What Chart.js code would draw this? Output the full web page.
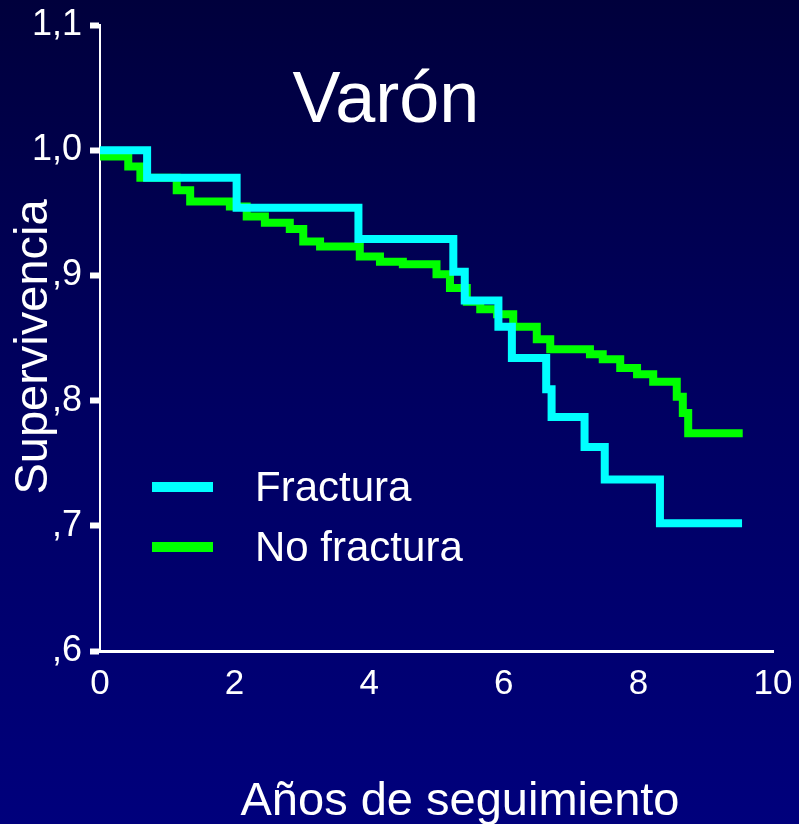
<!DOCTYPE html>
<html>
<head>
<meta charset="utf-8">
<script src="https://cdn.jsdelivr.net/npm/chart.js@4"></script>
<style>
  html, body { margin: 0; padding: 0; }
  body { width: 799px; height: 824px; background: linear-gradient(to bottom, #00003c 0%, #000062 50%, #00007c 100%); }
  #wrap { position: relative; width: 799px; height: 824px; }
</style>
</head>
<body>
<div id="wrap"><canvas id="kmChart"></canvas></div>
<script>
// Kaplan-Meier, varones: tiempo (años) y supervivencia tras cada escalón
const fracturaT = [0, 0.70, 2.03, 3.84, 5.25, 5.42, 5.92, 6.12, 6.63, 6.71, 7.20, 7.50, 8.32, 9.54];
const fracturaS = [1.000, 0.978, 0.954, 0.929, 0.903, 0.880, 0.859, 0.834, 0.809, 0.787, 0.763, 0.737, 0.702, 0.702];

const noFracturaT = [0, 0.42, 0.60, 1.14, 1.34, 1.93, 2.18, 2.45, 2.82, 3.02, 3.27, 3.86, 4.16, 4.50, 5.00, 5.20, 5.45, 5.65, 5.90, 6.14, 6.49, 6.69, 7.28, 7.47, 7.73, 7.98, 8.22, 8.57, 8.66, 8.74, 9.55];
const noFracturaS = [0.995, 0.987, 0.978, 0.968, 0.959, 0.955, 0.947, 0.942, 0.937, 0.927, 0.923, 0.915, 0.911, 0.909, 0.901, 0.890, 0.879, 0.873, 0.869, 0.859, 0.849, 0.841, 0.837, 0.833, 0.826, 0.821, 0.815, 0.803, 0.790, 0.774, 0.774];

const xTickValues = [0, 2, 4, 6, 8, 10];
const yTickValues = [0.6, 0.7, 0.8, 0.9, 1.0, 1.1];
const yTickLabels = [',6', ',7', ',8', ',9', '1,0', '1,1'];

const FONT = '"Liberation Sans", Arial, Helvetica, sans-serif';

function toPoints(ts, ss) {
    return ts.map((t, i) => ({ x: t, y: ss[i] }));
}

// Textos de la diapositiva: título, leyenda y rótulos de ejes
const slideText = {
    id: 'slideText',
    afterDraw(chart) {
        const ctx = chart.ctx;
        ctx.save();
        ctx.fillStyle = '#ffffff';
        ctx.textBaseline = 'alphabetic';

        ctx.font = '72px ' + FONT;
        ctx.textAlign = 'center';
        ctx.fillText('Varón', 386, 122);

        // leyenda
        const rows = [487, 547];
        chart.data.datasets.forEach((ds, i) => {
            ctx.strokeStyle = ds.borderColor;
            ctx.lineWidth = 10;
            ctx.beginPath();
            ctx.moveTo(152, rows[i]);
            ctx.lineTo(213, rows[i]);
            ctx.stroke();
            ctx.font = '42px ' + FONT;
            ctx.textAlign = 'left';
            ctx.fillText(ds.label, 255, rows[i] + 14);
        });

        ctx.font = '47px ' + FONT;
        ctx.textAlign = 'center';
        ctx.fillText('Años de seguimiento', 460, 815);

        ctx.translate(47, 347);
        ctx.rotate(-Math.PI / 2);
        ctx.fillText('Supervivencia', 0, 0);
        ctx.restore();
    }
};

function createKmChart(ctx) {
    if (!ctx) return;
    new Chart(ctx, {
        type: 'line',
        data: {
            datasets: [{
                label: 'Fractura',
                data: toPoints(fracturaT, fracturaS),
                borderColor: '#00ffff',
                borderWidth: 8,
                stepped: true,
                pointRadius: 0
            }, {
                label: 'No fractura',
                data: toPoints(noFracturaT, noFracturaS),
                borderColor: '#00ff00',
                borderWidth: 8,
                stepped: true,
                pointRadius: 0
            }]
        },
        options: {
            responsive: true, maintainAspectRatio: false,
            animation: false,
            layout: { padding: { top: 25, right: 26, left: 0, bottom: 0 } },
            plugins: { legend: { display: false }, tooltip: { enabled: false } },
            scales: {
                x: {
                    type: 'linear',
                    min: 0, max: 10,
                    afterBuildTicks: (scale) => { scale.ticks = xTickValues.map(v => ({ value: v })); },
                    afterFit: (scale) => { scale.height = 173; scale.paddingLeft = 0; scale.paddingRight = 0; },
                    grid: { display: false, drawTicks: false },
                    border: { display: true, color: '#ffffff', width: 3 },
                    ticks: { color: '#ffffff', padding: 12, maxRotation: 0, font: { family: FONT, size: 35 } }
                },
                y: {
                    type: 'linear',
                    min: 0.6, max: 1.1,
                    afterBuildTicks: (scale) => { scale.ticks = yTickValues.map(v => ({ value: v })); },
                    afterFit: (scale) => { scale.width = 100; scale.paddingTop = 0; scale.paddingBottom = 0; },
                    grid: { drawOnChartArea: false, drawTicks: true, tickLength: 10, tickWidth: 6, tickColor: '#ffffff' },
                    border: { display: true, color: '#ffffff', width: 2 },
                    ticks: {
                        color: '#ffffff', padding: 8,
                        font: { family: FONT, size: 36 },
                        callback: (value, index) => yTickLabels[index]
                    }
                }
            }
        },
        plugins: [slideText]
    });
}

createKmChart(document.getElementById('kmChart').getContext('2d'));
</script>
</body>
</html>
